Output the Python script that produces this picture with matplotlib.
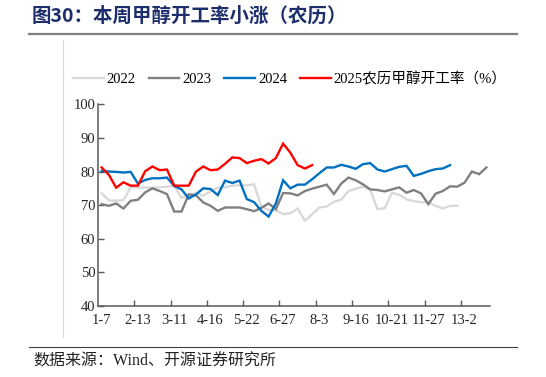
import matplotlib
matplotlib.use("Agg")
import matplotlib.pyplot as plt
from matplotlib.lines import Line2D
import numpy as np

# weekly data on lunar-calendar weeks
xlabels = ['1-7', '2-13', '3-11', '4-16', '5-22', '6-27', '8-3', '9-16', '10-21', '11-27', '13-2']

y2022 = [73.5, 71.4, 71.3, 71.5, 75.2, 75.2, 75.2, 75.2, 75.3, 75.5,
         75.7, 72.2, 73.0, 73.6, 72.8, 74.1, 75.2, 75.3, 75.8, 75.9,
         75.9, 76.2, 69.6, 68.6, 68.5, 67.3, 67.6, 69.0, 65.4, 67.3,
         69.3, 69.6, 71.0, 71.6, 74.2, 74.9, 75.5, 74.6, 68.8, 69.1,
         73.7, 73.1, 71.7, 71.2, 70.9, 70.8, 69.8, 69.0, 69.8, 69.8]
y2023 = [70.3, 69.8, 70.5, 69.0, 71.3, 71.6, 73.8, 75.0, 74.2, 73.3,
         68.1, 68.1, 73.2, 72.9, 70.8, 69.8, 68.3, 69.3, 69.3, 69.3,
         68.8, 68.2, 69.2, 70.5, 68.8, 73.6, 73.5, 72.9, 74.2, 74.9,
         75.5, 76.1, 73.3, 76.4, 78.2, 77.4, 76.2, 74.7, 74.5, 74.1,
         74.7, 75.3, 73.7, 74.5, 73.5, 70.3, 73.4, 74.2, 75.6, 75.5,
         76.7, 80.0, 79.2, 81.2]
y2024 = [80.2, 80.0, 79.9, 79.7, 79.9, 76.4, 77.5, 78.0, 78.0, 78.2,
         75.7, 74.7, 72.0, 73.2, 75.0, 74.8, 73.0, 77.3, 76.6, 77.3,
         71.8, 70.9, 68.3, 66.6, 70.5, 77.4, 75.0, 76.1, 76.1, 77.7,
         79.5, 81.2, 81.2, 82.0, 81.5, 80.8, 82.2, 82.5, 80.6, 80.0,
         80.7, 81.4, 81.7, 78.7, 79.3, 80.1, 80.7, 80.9, 81.9]
y2025 = [81.2, 79.0, 75.2, 76.8, 75.8, 75.8, 80.1, 81.5, 80.4, 80.6,
         75.8, 75.8, 75.8, 80.0, 81.5, 80.4, 80.6, 82.3, 84.2, 84.0,
         82.5, 83.2, 83.7, 82.4, 84.0, 88.3, 85.6, 81.9, 80.9, 81.9]

series = [('2022', y2022, '#d9d9d9'),
          ('2023', y2023, '#808080'),
          ('2024', y2024, '#0070c0'),
          ('2025农历甲醇开工率（%）', y2025, '#ff0000')]

fam = ['Liberation Serif', 'Noto Sans CJK SC']
plt.rcParams['font.family'] = fam

W, H = 546, 377
fig = plt.figure(figsize=(W / 100, H / 100), dpi=100)
ax = fig.add_axes([98 / W, 1 - 306 / H, (490 - 98) / W, (306 - 104.3) / H])

for name, vals, col in series:
    ax.plot(np.arange(len(vals)), vals, color=col, lw=1.7, label=name,
            solid_joinstyle='miter')

ax.set_xlim(-0.5, 53.5)
ax.set_ylim(40, 100)
ax.set_yticks(range(40, 101, 10))
ax.set_xticks(np.arange(0, 51, 5))
ax.set_xticklabels(xlabels)
ax.set_xticks(np.arange(4.5, 50, 5), minor=True)
ax.tick_params(axis='x', which='major', length=0, pad=6, labelsize=10.5, colors='#262626')
ax.tick_params(axis='x', which='minor', length=4, direction='in', color='#595959', width=1)
ax.tick_params(axis='y', length=4, direction='in', pad=2, labelsize=10.5, colors='#262626')
ax.tick_params(axis='y', color='#595959', width=1)
for s in ['top', 'right']:
    ax.spines[s].set_visible(False)
for s in ['left', 'bottom']:
    ax.spines[s].set_color('#595959')
    ax.spines[s].set_linewidth(1.1)

fig.legend(loc='center left', bbox_to_anchor=(73 / W, 1 - 79 / H), ncol=4,
           frameon=False, fontsize=10.5, handlelength=2.1, handletextpad=0.2,
           columnspacing=0.9, borderpad=0, borderaxespad=0)

# title, rules and source
fig.text(32 / W, 1 - 16 / H, '图30：本周甲醇开工率小涨（农历）', fontsize=14,
         fontweight='bold', color='#1c2e6b', va='center', ha='left',
         family=['Noto Sans CJK SC'])
fig.add_artist(Line2D([29 / W, 517 / W], [1 - 33.5 / H] * 2, color='#7f7f7f', lw=1.6))
fig.add_artist(Line2D([29 / W, 517 / W], [1 - 346.5 / H] * 2, color='#404040', lw=0.8))
fig.add_artist(Line2D([62.5 / W] * 2, [1 - 40 / H, 1 - 337 / H], color='#d9d9d9', lw=0.8))
fig.text(33 / W, 1 - 362 / H, '数据来源：Wind、开源证券研究所', fontsize=11.5,
         color='#222222', va='center', ha='left')

fig.savefig('out.png', dpi=100)
